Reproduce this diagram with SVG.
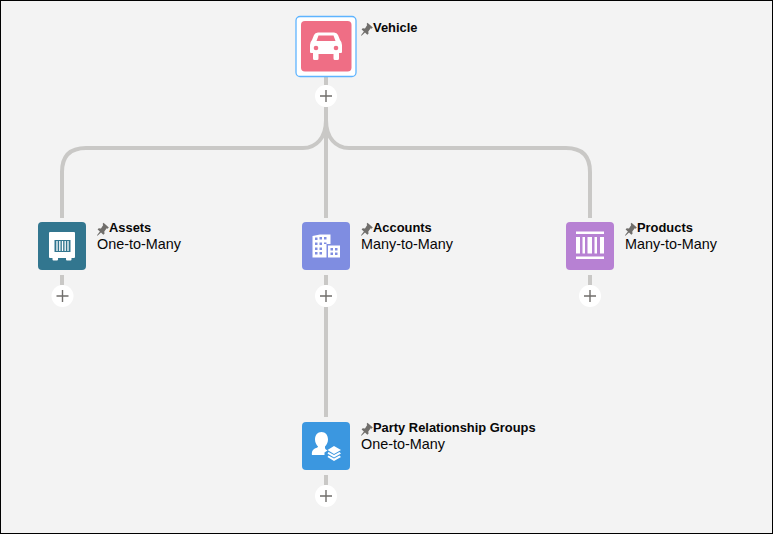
<svg xmlns="http://www.w3.org/2000/svg" width="773" height="534" viewBox="0 0 773 534">
<style>
.c{fill:none;stroke:#c9c8c6;stroke-width:4}
.t{fill:#fff}
.b{font:bold 12.900px "Liberation Sans",Arial,sans-serif;fill:#080707}
.s{font:14.400px "Liberation Sans",Arial,sans-serif;fill:#080707}
.pl{stroke:#706e6b;stroke-width:1.400;fill:none}
</style>
<defs>
<g id="plus"><circle r="11" fill="#fff"/><path class="pl" d="M-6 0H6M0-6V6"/></g>
<path id="pin" fill="#706e6b" d="M6.500-5.800 11.800-1 10.600.2 9.700-.3 7.300 3 7.500 5.200 6.300 6.300 4 4 .5 7.300 0 6.800 2.900 3 .6.900 1.700-.3 4 0 6.200-3.400 5.600-4.400Z"/>
</defs>
<rect x=".5" y=".5" width="772" height="533" fill="#f3f3f3" stroke="#000"/>
<g id="connectors">
<path class="c" d="M326 76V85M326 107V218M326 120C326 138 316 148 303 148H86Q62 148 62 172V218"/>
<path class="c" d="M326 120C326 138 336 148 349 148H566Q590 148 590 172V218"/>
<path class="c" d="M62 275V285M326 275V285M590 275V285M326 307V417M326 475V485"/>
</g>
<g id="node-vehicle">
<rect x="296" y="16.500" width="60" height="60" rx="4" fill="#fff" stroke="#5eb4ff" stroke-width="1.300"/>
<rect x="301" y="21" width="50.500" height="50.500" rx="4" fill="#ef6e85"/>
<path class="t" fill-rule="evenodd" d="M318 32.500H334Q337 32.500 338 35L340 40Q342 42 342 45V52Q342 53 341 53H339V58.500Q339 60 337.500 60H335Q333.500 60 333.500 58.500V54H318.500V58.500Q318.500 60 317 60H314.500Q313 60 313 58.500V53H311Q310 53 310 52V45Q310 42 312 40L314 35Q315 32.500 318 32.500ZM318.500 35.500 316.500 41H335.500L333.500 35.500Z"/>
<circle cx="316" cy="48" r="2.300" fill="#ef6e85"/><circle cx="336" cy="48" r="2.300" fill="#ef6e85"/>
<use href="#pin" x="361" y="28.500"/>
<text class="b" x="373" y="32">Vehicle</text>
<use href="#plus" x="326" y="96"/>
</g>
<g id="node-assets">
<rect x="38" y="222" width="48" height="48" rx="4" fill="#32768f"/>
<path class="t" d="M50 232H74Q75 232 75 233V257Q75 258 74 258H71.500V259.500Q71.500 260.500 70.500 260.500H67Q66 260.500 66 259.500V258H58V259.500Q58 260.500 57 260.500H53.500Q52.500 260.500 52.500 259.500V258H50Q49 258 49 257V233Q49 232 50 232Z"/>
<rect x="54.500" y="240" width="16" height="12" fill="#32768f"/>
<path stroke="#fff" stroke-width="1.300" d="M57 241V251M59.800 241V251M62.500 241V251M65.200 241V251M68 241V251"/>
<use href="#pin" x="97" y="228.500"/>
<text class="b" x="109" y="232">Assets</text>
<text class="s" x="97" y="248.500">One-to-Many</text>
<use href="#plus" x="62.500" y="296"/>
</g>
<g id="node-accounts">
<rect x="302" y="222" width="48" height="48" rx="4" fill="#7f8de1"/>
<path class="t" fill-rule="evenodd" d="M312.500 236 320 234.500H330.500V244H326.500V257.500H312.500ZM315 237.500v2.500h2.500v-2.500ZM319.500 237v2.500h2.500v-2.500ZM324 237v2.500h2.500v-2.500ZM315 242.500v2.500h2.500v-2.500ZM319.500 242.500v2.500h2.500v-2.500ZM324 242.500v1.500h2.500v-1.500ZM315 247.500v2.500h2.500v-2.500ZM319.500 247.500v2.500h2.500v-2.500ZM315 252v2.500h2.500v-2.500ZM319.500 252v2.500h2.500v-2.500Z"/>
<path class="t" fill-rule="evenodd" d="M328 245.500H340V257.500H328ZM330.500 248v2.500h2.500v-2.500ZM335 248v2.500h2.500v-2.500ZM330.500 252.500v2.500h2.500v-2.500ZM335 252.500v2.500h2.500v-2.500Z"/>
<use href="#pin" x="361" y="228.500"/>
<text class="b" x="373" y="232">Accounts</text>
<text class="s" x="361" y="248.500">Many-to-Many</text>
<use href="#plus" x="326" y="296"/>
</g>
<g id="node-products">
<rect x="566" y="222" width="48" height="48" rx="4" fill="#b781d3"/>
<path class="t" d="M576 231.500H604V234H576ZM576 256.500H604V259H576ZM576 237H580V253.500H576ZM582.500 237H585V253.500H582.500ZM587.500 237H592V253.500H587.500ZM594.500 237H597V253.500H594.500ZM600 237H604V253.500H600Z"/>
<use href="#pin" x="625" y="228.500"/>
<text class="b" x="637" y="232">Products</text>
<text class="s" x="625" y="248.500">Many-to-Many</text>
<use href="#plus" x="590" y="296"/>
</g>
<g id="node-party">
<rect x="302" y="422" width="48" height="48" rx="4" fill="#3b97e0"/>
<path class="t" d="M321.500 432C325.500 432 328 435 328 439.500C328 442.500 326.500 445 325 446.500V448C325 449 326.500 450 327.500 450.500L324.500 452.500V455H312Q311.500 455 312 452C312.500 450 313.500 449 316 448C317.500 447.500 318 447 318 446.500C316.500 445 315 442.500 315 439.500C315 435 317.500 432 321.500 432Z"/>
<path class="t" d="M334 446 341 450 334 454 327.500 450ZM328.500 452 334 455 339.500 452 341 453.500 334 457.500 327.500 453.500ZM328.500 455.500 334 458.500 339.500 455.500 341 457 334 461 327.500 457Z"/>
<use href="#pin" x="361" y="428.500"/>
<text class="b" x="373" y="432">Party Relationship Groups</text>
<text class="s" x="361" y="448.500">One-to-Many</text>
<use href="#plus" x="326" y="496"/>
</g>
</svg>
